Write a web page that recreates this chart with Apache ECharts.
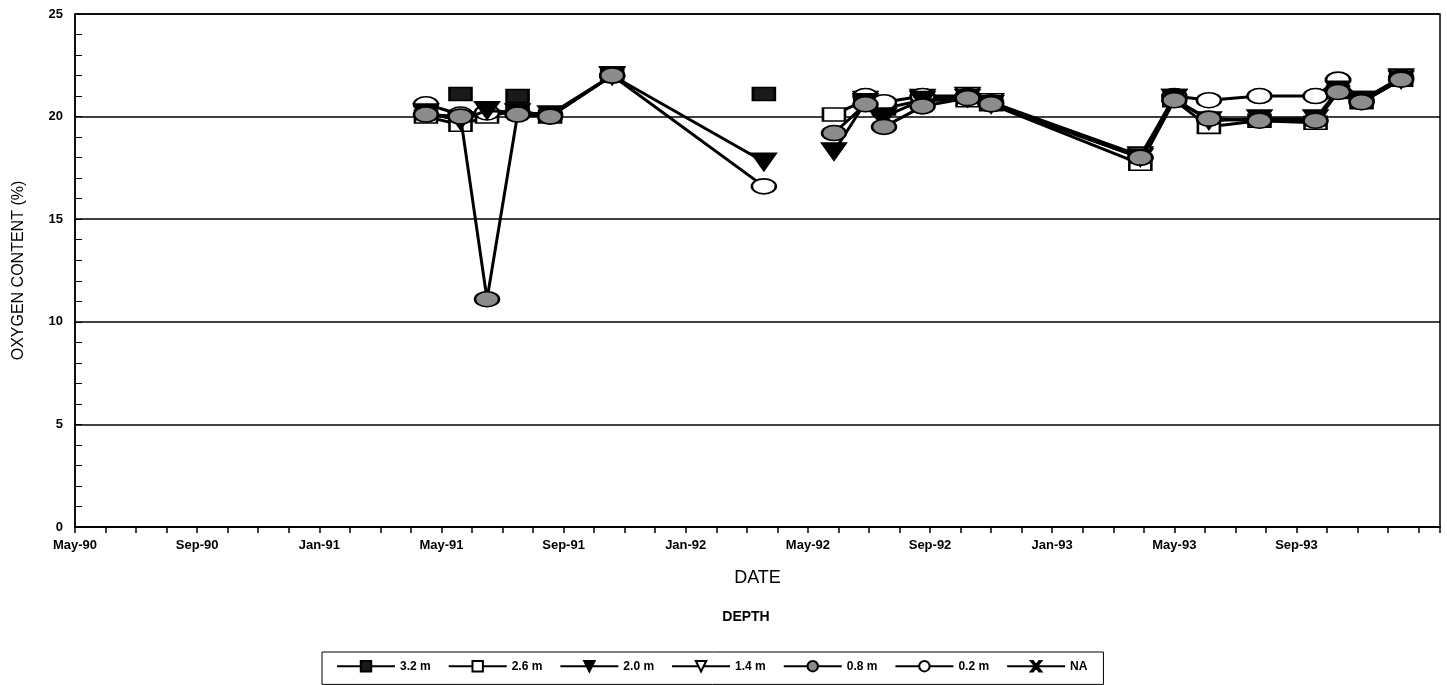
<!DOCTYPE html>
<html><head><meta charset="utf-8">
<script src="https://cdn.jsdelivr.net/npm/echarts@6/dist/echarts.min.js"></script>
<style>html,body{margin:0;padding:0;background:#fff}#c{width:1447px;height:685px}</style>
</head><body><div id="c"></div>
<script>
// sampling dates (a null-only date marks a break in the record)
const dates = ["1991-04-16","1991-05-20","1991-06-16","1991-07-16","1991-08-18","1991-10-19",
  "1992-03-18","1992-04-20","1992-05-27","1992-06-28","1992-07-16","1992-08-24","1992-10-08","1992-11-01",
  "1993-03-28","1993-05-01","1993-06-05","1993-07-25","1993-09-20","1993-10-12","1993-11-05","1993-12-14"];
const depthNames = ["3.2 m","2.6 m","2.0 m","1.4 m","0.8 m","0.2 m","NA"];
const d32 = [null,21.1,null,21.0,null,null, 21.1,null,null,null,null,null,null,null, null,null,null,null,null,null,null,null];
const d26 = [20.0,19.6,20.0,20.3,20.0,22.0, null,null,20.1,20.8,20.4,20.8,20.8,20.6, 17.7,20.8,19.5,19.8,19.7,21.2,20.7,21.8];
const d20 = [20.2,19.8,20.3,20.2,20.1,22.0, 17.8,null,18.3,20.7,20.0,20.8,20.9,20.6, 18.0,20.9,19.8,19.9,19.9,21.3,20.8,21.8];
const d14 = [null,null,null,null,null,22.0, null,null,null,20.8,null,20.9,21.0,20.7, 18.1,20.9,null,null,null,21.4,20.8,21.9];
const d08 = [20.1,20.0,11.1,20.1,20.0,22.0, null,null,19.2,20.6,19.5,20.5,20.9,20.6, 18.0,20.8,19.9,19.8,19.8,21.2,20.7,21.8];
const d02 = [20.6,20.1,20.2,20.2,20.1,22.0, 16.6,null,null,21.0,20.7,21.0,21.0,20.7, 18.0,21.0,20.8,21.0,21.0,21.8,20.8,21.9];
const dNA = [null,null,null,null,null,null, null,null,null,null,null,null,null,null, null,null,null,null,null,null,null,null];
const monthNames = ["Jan","Feb","Mar","Apr","May","Jun","Jul","Aug","Sep","Oct","Nov","Dec"];
const yTicks = [0,5,10,15,20,25];

function monthIndex(s){ // months since 1 May 1990
  const [y,m,d] = s.split("-").map(Number);
  return (y-1990)*12 + (m-5) + (d-1)/30.44;
}
function pairs(vals){ return dates.map((s,i)=>[monthIndex(s), vals[i]]); }

const tri = 'path://M0,0 L20,0 L10,14 Z';
const cross = 'path://M0,0 L4,0 L10,5 L16,0 L20,0 L12,6.5 L20,13 L16,13 L10,8 L4,13 L0,13 L8,6.5 Z';
const styles = [
  {sym:'rect', size:[22,13], color:'#1a1a1a', data:d32, z:16},
  {sym:'rect', size:[22,13], color:'#fff', data:d26, z:10},
  {sym:tri, size:[24,17], color:'#000', data:d20, z:13},
  {sym:tri, size:[24,17], color:'#fff', data:d14, z:11},
  {sym:'circle', size:[24,15], color:'#8c8c8c', data:d08, z:14},
  {sym:'circle', size:[24,15], color:'#fff', data:d02, z:12},
  {sym:cross, size:[20,13], color:'#000', data:dNA, z:9}
];

const series = styles.map((st,i)=>({
  name: depthNames[i], type:'line', data: pairs(st.data), connectNulls:false,
  symbol: st.sym, symbolSize: st.size, showAllSymbol:true,
  lineStyle:{color:'#000', width:3},
  itemStyle:{color: st.color, borderColor:'#000', borderWidth: 2},
  z: st.z
}));

const chart = echarts.init(document.getElementById('c'), null, {renderer:'canvas'});
chart.setOption({
  animation:false,
  textStyle:{fontFamily:'Liberation Sans, Arial, sans-serif'},
  grid:{left:75, right:7, top:14, bottom:158, show:true, borderColor:'#000', borderWidth:1.5, backgroundColor:'transparent'},
  xAxis:{type:'value', min:0, max:44.7, interval:1,
    name:'DATE', nameLocation:'middle', nameGap:42,
    nameTextStyle:{fontSize:18, color:'#000'},
    axisLine:{lineStyle:{color:'#000', width:1.5}},
    axisTick:{show:true, length:6, lineStyle:{color:'#000', width:1.5}, inside:false},
    splitLine:{show:false},
    axisLabel:{color:'#000', fontWeight:'bold', fontSize:13, margin:12,
      formatter:function(v){
        if (Math.abs(v-Math.round(v))>1e-6) return '';
        const k = Math.round(v);
        if (k%4!==0 || k>40) return '';
        const m = (4 + k) % 12, y = 1990 + Math.floor((4+k)/12);
        return monthNames[m] + '-' + String(y).slice(2);
      }}
  },
  yAxis:{type:'value', min:0, max:25, interval:5,
    name:'OXYGEN CONTENT (%)', nameLocation:'middle', nameGap:48, nameRotate:90,
    nameTextStyle:{fontSize:16, color:'#000'},
    axisLine:{show:true, lineStyle:{color:'#000', width:1.5}},
    axisTick:{show:true, inside:true, length:7, lineStyle:{color:'#000'}},
    minorTick:{show:true, splitNumber:5, length:7, lineStyle:{color:'#000'}},
    splitLine:{show:true, lineStyle:{color:'#000', width:1.5}},
    axisLabel:{color:'#000', fontWeight:'bold', fontSize:13, margin:12,
      formatter:function(v){ return yTicks.indexOf(v)>=0 ? String(v) : ''; }}
  },
  title:{text:'DEPTH', left:741, top:605, textAlign:'center',
    textStyle:{fontSize:14, fontWeight:'bold', color:'#000'}},
  legend:{left:322, top:652, width:783, orient:'horizontal',
    borderColor:'#000', borderWidth:1, padding:[8,16,12,14], itemGap:17,
    itemWidth:58, itemHeight:13, data: depthNames,
    textStyle:{fontSize:12, fontWeight:'bold', color:'#000'}},
  series: series
});
</script></body></html>
